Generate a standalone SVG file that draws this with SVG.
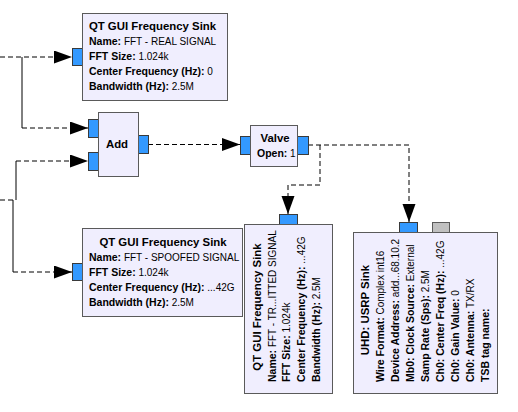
<svg xmlns="http://www.w3.org/2000/svg" width="518" height="412" viewBox="0 0 518 412">
<defs>
<style>
.blk{fill:#F0EEFE;stroke:#5A5A5A;stroke-width:1}
.port{fill:#3399FF;stroke:#3A3A3A;stroke-width:1}
.gport{fill:#C0C0C0;stroke:#5A5A5A;stroke-width:1}
text{font-family:"Liberation Sans",Arial,sans-serif;fill:#000}
.t{font-size:11.4px;font-weight:bold}
.p{font-size:10px}
.b{font-weight:bold;font-size:10.5px}
.c{fill:none;stroke:#000;stroke-width:1}
.d{stroke-dasharray:5,3}
</style>
<marker id="ah" markerUnits="userSpaceOnUse" markerWidth="19" markerHeight="14" refX="18" refY="6.5" orient="auto">
<path d="M0,0 L18,6.5 L0,13 Z" fill="#000"/>
</marker>
</defs>
<rect width="518" height="412" fill="#FFFFFF"/>
<g id="connectors">
<path class="c d" d="M0,57 H72" marker-end="url(#ah)"/>
<path class="c" d="M22,57 V128"/>
<path class="c d" d="M22,128 H88" marker-end="url(#ah)"/>
<path class="c d" d="M0,200 H16"/>
<path class="c" d="M16,200 V161"/>
<path class="c d" d="M16,161 H88" marker-end="url(#ah)"/>
<path class="c" d="M13,200 V272"/>
<path class="c d" d="M13,272 H72" marker-end="url(#ah)"/>
<path class="c d" d="M148,144.5 H240" marker-end="url(#ah)"/>
<path class="c d" d="M308,145 H409 V222" marker-end="url(#ah)"/>
<path class="c d" d="M320,145 V185 H288 V214" marker-end="url(#ah)"/>
</g>
<g id="fft_real">
<rect class="port" x="72.5" y="48.5" width="10" height="17"/>
<rect class="blk" x="82.5" y="13.5" width="145" height="87"/>
<text class="t" x="152.5" y="30" text-anchor="middle">QT GUI Frequency Sink</text>
<text class="p" x="89" y="45"><tspan class="b">Name:</tspan> FFT - REAL SIGNAL</text>
<text class="p" x="89" y="60"><tspan class="b">FFT Size:</tspan> 1.024k</text>
<text class="p" x="89" y="75"><tspan class="b">Center Frequency (Hz):</tspan> 0</text>
<text class="p" x="89" y="90"><tspan class="b">Bandwidth (Hz):</tspan> 2.5M</text>
</g>
<g id="add">
<rect class="port" x="88.5" y="119.5" width="10" height="18"/>
<rect class="port" x="88.5" y="152.5" width="10" height="18"/>
<rect class="port" x="138.5" y="135.5" width="10" height="18"/>
<rect class="blk" x="98.5" y="112.5" width="40" height="64"/>
<text class="t" x="117" y="148" text-anchor="middle">Add</text>
</g>
<g id="valve">
<rect class="port" x="240.5" y="136.5" width="10" height="18"/>
<rect class="port" x="297.5" y="136.5" width="11" height="18"/>
<rect class="blk" x="250.5" y="125.5" width="47" height="41"/>
<text class="t" x="275" y="142" text-anchor="middle">Valve</text>
<text class="p" x="257" y="157"><tspan class="b">Open:</tspan> 1</text>
</g>
<g id="fft_spoofed">
<rect class="port" x="72.5" y="263.5" width="10" height="17"/>
<rect class="blk" x="82.5" y="228.5" width="160" height="88"/>
<text class="t" x="163" y="246" text-anchor="middle">QT GUI Frequency Sink</text>
<text class="p" x="89" y="261"><tspan class="b">Name:</tspan> FFT - SPOOFED SIGNAL</text>
<text class="p" x="89" y="276"><tspan class="b">FFT Size:</tspan> 1.024k</text>
<text class="p" x="89" y="291"><tspan class="b">Center Frequency (Hz):</tspan> ...42G</text>
<text class="p" x="89" y="306"><tspan class="b">Bandwidth (Hz):</tspan> 2.5M</text>
</g>
<g id="fft_transmitted">
<rect class="port" x="279.5" y="214.5" width="18" height="10"/>
<rect class="blk" x="244.5" y="224.5" width="88" height="169"/>
<g transform="translate(244,382) rotate(-90)">
<text class="t" x="75" y="17" text-anchor="middle">QT GUI Frequency Sink</text>
<text class="p" x="0" y="31.5"><tspan class="b">Name:</tspan> FFT - TR...ITTED SIGNAL</text>
<text class="p" x="0" y="46"><tspan class="b">FFT Size:</tspan> 1.024k</text>
<text class="p" x="0" y="61"><tspan class="b">Center Frequency (Hz):</tspan> ...42G</text>
<text class="p" x="0" y="76"><tspan class="b">Bandwidth (Hz):</tspan> 2.5M</text>
</g>
</g>
<g id="usrp_sink">
<rect class="port" x="399.5" y="222.5" width="18" height="10"/>
<rect class="gport" x="432.5" y="222.5" width="17" height="10"/>
<rect class="blk" x="353.5" y="232.5" width="144" height="161"/>
<g transform="translate(353,382) rotate(-90)">
<text class="t" x="72" y="16" text-anchor="middle">UHD: USRP Sink</text>
<text class="p" x="0" y="31"><tspan class="b">Wire Format:</tspan> Complex int16</text>
<text class="p" x="0" y="46"><tspan class="b">Device Address:</tspan> add...68.10.2</text>
<text class="p" x="0" y="61"><tspan class="b">Mb0: Clock Source:</tspan> External</text>
<text class="p" x="0" y="76"><tspan class="b">Samp Rate (Sps):</tspan> 2.5M</text>
<text class="p" x="0" y="91"><tspan class="b">Ch0: Center Freq (Hz):</tspan> ...42G</text>
<text class="p" x="0" y="106"><tspan class="b">Ch0: Gain Value:</tspan> 0</text>
<text class="p" x="0" y="121"><tspan class="b">Ch0: Antenna:</tspan> TX/RX</text>
<text class="p" x="0" y="136"><tspan class="b">TSB tag name:</tspan></text>
</g>
</g>
</svg>
